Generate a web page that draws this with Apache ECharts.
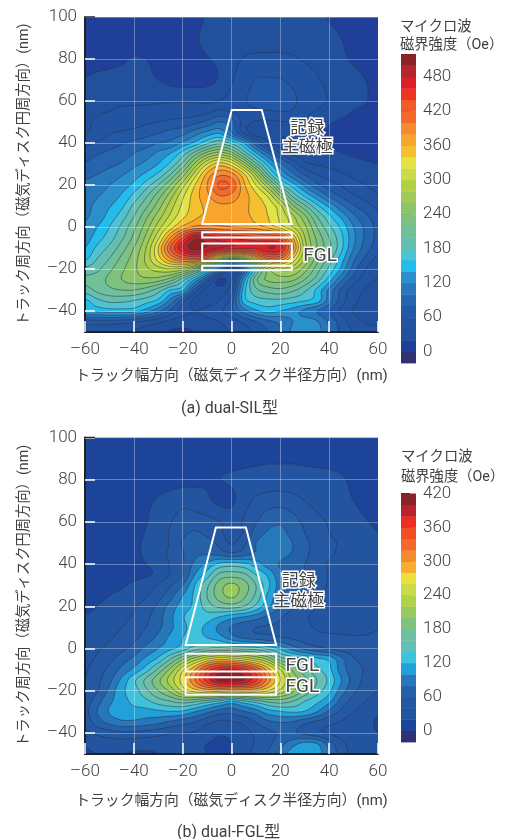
<!DOCTYPE html>
<html><head><meta charset="utf-8">
<style>html,body{margin:0;padding:0;background:#fff}#c{width:507px;height:839px}</style>
<script src="https://cdn.jsdelivr.net/npm/echarts@6/dist/echarts.min.js"></script>
</head><body><div id="c"></div>
<script>
const xNm = [-60,-55,-50,-45,-40,-35,-30,-25,-20,-15,-10,-5,0,5,10,15,20,25,30,35,40,45,50,55,60];
const yNm = [100,90,80,70,60,55,50,45,40,35,30,25,20,15,10,5,0,-5,-10,-15,-20,-25,-30,-35,-40,-45,-50];
const xTicks = [-60,-40,-20,0,20,40,60];
const yTicks = [-40,-20,0,20,40,60,80,100];
const barTicksA = [0,60,120,180,240,300,360,420,480];
const barTicksB = [0,60,120,180,240,300,360,420];

// microwave field (Oe), dual-SIL; one row per yNm, one value per xNm
const fieldA = [
[12,12,12,12,12,12,12,12,12,14,22,26,28,28,28,28,28,28,26,23,19,15,13,12,12],
[12,12,12,12,13,14,14,15,15,18,25,28,30,32,32,33,33,33,32,29,25,20,15,13,12],
[15,16,17,18,21,20,17,15,14,15,19,24,34,41,44,44,44,42,38,33,28,23,18,14,13],
[21,23,24,25,26,24,20,15,12,12,15,22,38,50,61,62,61,56,50,42,35,29,25,20,15],
[30,32,34,35,36,36,37,38,38,38,36,40,47,58,66,70,70,64,52,45,39,32,27,21,15],
[36,38,40,44,45,46,47,48,48,50,54,65,58,55,56,58,60,58,46,38,32,25,19,16,15],
[38,42,48,48,52,56,60,64,68,74,85,100,90,50,38,36,38,40,36,28,22,18,18,18,17],
[40,46,58,62,66,72,78,86,92,110,125,135,100,55,25,22,22,25,25,22,18,16,16,16,17],
[55,62,70,78,85,90,100,105,125,145,175,195,175,140,85,45,25,20,20,20,18,16,15,15,16],
[70,78,85,90,100,110,125,140,170,210,250,270,250,195,145,100,60,35,30,28,24,21,18,17,17],
[82,90,95,102,115,125,140,165,205,265,320,350,330,275,205,150,105,75,45,38,35,30,25,22,20],
[95,100,108,118,130,145,165,200,250,310,365,395,388,345,280,195,140,105,78,60,50,42,35,28,24],
[105,110,120,130,145,170,200,240,290,340,380,425,415,365,320,265,190,150,115,85,70,58,48,40,32],
[110,118,128,142,165,195,230,270,315,350,375,400,395,370,345,315,255,195,155,125,95,75,62,52,42],
[115,125,138,155,185,215,250,290,325,350,365,375,375,365,352,335,305,245,205,165,135,105,82,68,55],
[118,128,148,170,200,235,270,305,335,355,365,370,370,365,355,340,315,285,245,200,165,135,105,85,68],
[122,140,160,185,215,250,290,330,365,385,390,385,380,375,370,355,330,300,265,220,185,155,120,95,75],
[130,150,170,195,225,265,315,380,440,490,480,465,455,450,445,440,430,360,280,235,200,165,125,95,75],
[140,165,185,210,240,280,340,420,480,510,495,480,470,465,465,480,470,390,290,240,205,165,120,90,70],
[155,180,200,225,250,285,330,380,410,420,400,300,260,280,350,400,400,340,280,230,190,150,105,75,55],
[185,195,215,235,255,275,290,300,290,250,190,120,40,100,190,260,290,285,250,210,175,135,90,60,45],
[205,210,225,240,250,255,250,230,190,140,80,15,40,130,215,245,250,245,220,190,150,105,70,50,38],
[190,205,215,220,220,210,190,160,145,75,30,30,50,150,195,210,215,205,185,155,115,75,50,38,30],
[155,175,185,185,180,170,155,115,70,30,30,40,70,150,170,175,175,170,162,150,110,70,45,35,28],
[140,145,150,150,148,130,105,75,50,40,45,55,75,110,135,148,140,130,115,100,80,55,38,28,30],
[70,72,72,70,65,55,45,35,30,30,35,40,50,65,80,95,105,120,128,122,95,70,50,38,35],
[50,48,45,42,38,30,25,18,16,20,28,35,42,52,65,80,100,125,135,130,100,75,58,48,45]
];

// microwave field (Oe), dual-FGL
const fieldB = [
[12,12,12,12,12,12,12,12,12,12,12,12,12,12,12,12,12,12,12,12,12,12,12,12,12],
[13,13,13,13,13,13,13,13,13,14,14,15,15,16,17,18,18,18,17,16,15,14,13,13,13],
[12,12,12,12,12,12,13,14,15,16,18,20,22,25,27,28,28,28,27,26,25,22,17,14,12],
[11,11,12,13,14,17,22,27,32,30,24,15,16,32,44,50,52,47,40,33,28,24,20,15,12],
[12,12,13,14,16,19,28,38,52,50,46,41,32,42,58,72,76,68,55,45,38,32,26,21,17],
[13,13,14,15,16,21,32,42,55,62,55,45,30,42,68,82,85,73,60,48,40,33,28,24,20],
[13,14,15,16,18,22,30,42,62,72,68,55,38,55,80,90,90,80,64,55,45,37,30,26,23],
[14,15,16,16,18,22,32,44,58,75,78,72,62,70,82,88,88,78,65,50,43,36,30,26,23],
[14,15,16,17,18,20,26,42,60,85,105,125,130,125,110,90,78,65,60,50,38,32,28,25,22],
[15,15,16,16,16,18,25,42,60,100,130,165,170,165,140,115,85,68,60,50,38,28,26,24,22],
[15,16,17,18,23,30,42,58,80,120,155,190,205,190,160,125,90,70,58,48,38,26,24,22,20],
[16,17,20,24,30,38,52,72,100,125,160,190,205,185,155,115,85,68,55,45,35,27,24,22,21],
[17,20,25,30,38,48,65,88,110,125,150,165,170,160,135,105,80,62,50,40,33,28,24,22,24],
[21,24,29,35,42,55,72,95,118,130,130,120,108,100,90,75,62,52,43,35,30,28,27,28,30],
[24,28,33,40,48,60,75,95,115,125,115,95,78,68,60,58,58,50,45,38,35,35,34,35,38],
[27,32,38,46,55,70,85,105,120,130,120,110,90,78,72,68,62,58,52,47,45,43,42,42,44],
[30,37,45,55,68,85,100,115,130,150,160,165,160,155,150,135,115,90,75,65,58,52,50,48,48],
[35,43,55,70,85,105,125,160,195,230,260,275,270,260,240,215,170,155,140,125,115,85,62,55,50],
[38,50,65,85,105,130,165,205,255,300,350,380,385,370,340,290,240,195,165,145,125,90,68,58,50],
[40,55,75,105,135,165,195,230,270,320,370,405,410,400,365,310,260,215,185,160,135,100,72,55,48],
[42,58,85,115,130,155,180,205,245,270,285,290,280,285,280,260,235,205,175,150,125,90,65,50,40],
[50,72,95,112,125,135,150,160,170,165,150,135,118,135,150,165,170,160,140,125,105,72,52,40,32],
[55,80,102,110,112,112,115,118,115,100,85,70,68,78,90,110,118,122,118,100,75,55,40,32,22],
[48,70,85,95,95,90,85,75,68,60,45,35,38,45,60,75,80,78,65,55,45,38,30,25,18],
[35,45,52,55,55,52,48,42,40,38,28,22,24,32,45,55,62,62,55,45,38,32,28,24,20],
[22,27,30,32,30,28,26,25,24,24,20,18,20,30,42,55,72,92,105,100,70,45,33,26,22],
[18,20,20,20,18,18,20,22,22,22,20,18,20,32,48,62,88,110,118,112,80,50,35,28,25]
];

// colour of each 20 Oe band, bottom band (-20..0) first
const bandsA = ['#2e3272','#1f3f98','#21509d','#2254a1','#2258a5','#2564ae','#2778bb','#2b8fcb','#22bdec','#4fc3d1','#64bfae','#70c09a','#7cc180','#8cc46b','#a0cb5a','#b2d045','#cbdb47','#e3e342','#f5c02f','#f9a52d','#f58a2e','#f26b2b','#f15a29','#ee3524','#dd2027','#b2262e','#8a2327'];
const bandsB = ['#2e3272','#1c459a','#2354a0','#2458a3','#2561a9','#2678ba','#22a0d9','#3fc3dd','#64bfb5','#6fc0a0','#80c27c','#97ca5f','#aed249','#cbdb47','#eee03a','#f6ad30','#f58a2e','#f4692b','#f04e25','#ee2e24','#b9232e','#8a2327'];

// head outlines in nm: main pole trapezoid and FGL rectangles
const poleA = [[-12,1.4],[0.1,55.7],[12.4,55.7],[24.7,1.4]];
const fglA = [[[-12,-2.5],[24.7,-2.5],[24.7,-5],[-12,-5]],[[-12,-7.8],[24.7,-7.8],[24.7,-16.2],[-12,-16.2]],[[-12,-18.4],[24.7,-18.4],[24.7,-20.6],[-12,-20.6]]];
const poleB = [[-18.8,1.6],[-6.4,57.4],[5.9,57.4],[18.3,1.6]];
const fglB = [[[-18.8,-2.5],[18.3,-2.5],[18.3,-10.9],[-18.8,-10.9]],[[-18.8,-13.6],[18.3,-13.6],[18.3,-21.9],[-18.8,-21.9]]];
const notesA = [['記録',31,47],['主磁極',31,37.6],['FGL',36.3,-13.8]];
const notesB = [['記録',27.5,31.6],['主磁極',27.5,22.2],['FGL',29,-8.3],['FGL',29,-18.5]];

[fieldA,fieldB].forEach((f,n)=>{
  if(f.length!==yNm.length) throw new Error('rows '+n+' '+f.length);
  f.forEach((r,i)=>{ if(r.length!==xNm.length) throw new Error('row '+n+':'+i+' len '+r.length); });
});

const FONT = "Roboto, 'Noto Sans CJK JP', sans-serif";
const TXT = '#404040';
const minus = v => String(v).replace('-', '\u2013');

// display-only refinement of the read values so contour lines come out round
const SUB = 4;
function refine(field){
  const nj=field.length, ni=field[0].length;
  const cr=(a,b,c,d,t)=>0.5*(2*b+(c-a)*t+(2*a-5*b+4*c-d)*t*t+(3*b-a-3*c+d)*t*t*t);
  const g=(j,i)=>field[Math.max(0,Math.min(nj-1,j))][Math.max(0,Math.min(ni-1,i))];
  const X=[],Y=[],V=[];
  for(let i=0;i<ni-1;i++) for(let s=0;s<SUB;s++) X.push(xNm[i]+(xNm[i+1]-xNm[i])*s/SUB);
  X.push(xNm[ni-1]);
  for(let j=0;j<nj-1;j++) for(let s=0;s<SUB;s++) Y.push(yNm[j]+(yNm[j+1]-yNm[j])*s/SUB);
  Y.push(yNm[nj-1]);
  for(let J=0;J<Y.length;J++){
    const j=Math.min(Math.floor(J/SUB),nj-1), tj=J/SUB-j, row=[];
    for(let I=0;I<X.length;I++){
      const i=Math.min(Math.floor(I/SUB),ni-1), ti=I/SUB-i;
      const col=[];
      for(let m=-1;m<3;m++) col.push(cr(g(j+m,i-1),g(j+m,i),g(j+m,i+1),g(j+m,i+2),ti));
      let v=cr(col[0],col[1],col[2],col[3],tj);
      const c=[g(j,i),g(j,i+1),g(j+1,i),g(j+1,i+1)];
      v=Math.max(Math.min.apply(null,c)-10,Math.min(Math.max.apply(null,c)+10,v));
      row.push(v);
    }
    V.push(row);
  }
  return {X,Y,V};
}
function contourItem(field, colors){
  const R=refine(field), X=R.X, Y=R.Y, V=R.V;
  return function(params, api){
    const idx = params.dataIndex;
    const level = (idx-1)*20;
    const P = (x,y)=>{ const c = api.coord([x,y]); return c[0].toFixed(2)+' '+c[1].toFixed(2); };
    let fill = '', line = '';
    if(idx===1) fill = 'M'+P(X[0],Y[0])+'L'+P(X[X.length-1],Y[0])+'L'+P(X[X.length-1],Y[Y.length-1])+'L'+P(X[0],Y[Y.length-1])+'Z';
    else for(let j=0;j<Y.length-1;j++){
      let run=-1;
      const flush=(end)=>{ if(run>=0){ fill+='M'+P(X[run],Y[j])+'L'+P(X[end],Y[j])+'L'+P(X[end],Y[j+1])+'L'+P(X[run],Y[j+1])+'Z'; run=-1; } };
      for(let i=0;i<X.length-1;i++){
        const q=[[X[i],Y[j],V[j][i]],[X[i+1],Y[j],V[j][i+1]],[X[i+1],Y[j+1],V[j+1][i+1]],[X[i],Y[j+1],V[j+1][i]]];
        const cnt=q.filter(p=>p[2]>=level).length;
        if(cnt===4){ if(run<0) run=i; continue; }
        flush(i);
        if(cnt===0) continue;
        const poly=[],cross=[];
        for(let k=0;k<4;k++){
          const a=q[k],b=q[(k+1)%4],ain=a[2]>=level,bin=b[2]>=level;
          if(ain) poly.push([a[0],a[1]]);
          if(ain!==bin){
            const t=(level-a[2])/(b[2]-a[2]);
            const pt=[a[0]+t*(b[0]-a[0]),a[1]+t*(b[1]-a[1])];
            poly.push(pt); cross.push(pt);
          }
        }
        if(poly.length>2) fill+='M'+poly.map(p=>P(p[0],p[1])).join('L')+'Z';
        for(let c=0;c+1<cross.length;c+=2) line+='M'+P(cross[c][0],cross[c][1])+'L'+P(cross[c+1][0],cross[c+1][1]);
      }
      flush(X.length-1);
    }
    const children=[];
    if(fill) children.push({type:'path',silent:true,shape:{pathData:fill},style:{fill:colors[idx],stroke:null}});
    if(line) children.push({type:'path',silent:true,shape:{pathData:line},style:{fill:'none',stroke:'rgba(45,50,70,0.6)',lineWidth:0.9}});
    return {type:'group',children};
  };
}
function headItem(shapes){
  return function(params, api){
    const pts = shapes[params.dataIndex].map(p=>api.coord(p));
    return {type:'polygon',silent:true,shape:{points:pts},style:{fill:'none',stroke:'#fff',lineWidth:2}};
  };
}
function noteItem(notes){
  return function(params, api){
    const n = notes[params.dataIndex], c = api.coord([n[1],n[2]]);
    const size = n[0]==='FGL' ? 19 : 17;
    return {type:'text',silent:true,style:{text:n[0],x:c[0],y:c[1],align:'center',verticalAlign:'middle',font:size+"px "+FONT,fill:'#444',stroke:'#fff',lineWidth:3}};
  };
}
function capItem(params, api){
  const c = api.coord([-60,100]);
  return {type:'line',silent:true,shape:{x1:c[0],y1:c[1],x2:c[0]+10,y2:c[1]},style:{stroke:'#222',lineWidth:1.5}};
}
function bandItem(colors){
  return function(params, api){
    const lo=(params.dataIndex-1)*20;
    const a=api.coord([0,lo+20]), b=api.coord([1,lo]);
    return {type:'rect',silent:true,shape:{x:a[0],y:a[1],width:b[0]-a[0],height:b[1]-a[1]+0.4},style:{fill:colors[params.dataIndex]}};
  };
}
const plotX = (i,gap) => ({gridIndex:i,type:'value',min:-60,max:60,z:5,
  axisLine:{onZero:false,lineStyle:{color:'#222',width:2}},
  axisTick:{show:true,inside:true,length:11,customValues:xTicks,lineStyle:{color:'#fff',width:1.5}},
  axisLabel:{customValues:xTicks,margin:9,fontSize:17,fontWeight:300,fontFamily:FONT,color:TXT,formatter:minus,hideOverlap:false,showMinLabel:true,showMaxLabel:true},
  splitLine:{show:true,lineStyle:{color:'rgba(255,255,255,0.32)',width:1}},
  name:'トラック幅方向（磁気ディスク半径方向）(nm)',nameLocation:'middle',nameGap:gap,
  nameTextStyle:{fontSize:14.8,fontFamily:FONT,color:TXT}});
const plotY = i => ({gridIndex:i,type:'value',min:-50,max:100,z:5,
  axisLine:{show:true,onZero:false,lineStyle:{color:'#222',width:2}},
  axisTick:{show:true,inside:true,length:10,customValues:yTicks,lineStyle:{color:'#fff',width:1.5}},
  axisLabel:{customValues:yTicks,margin:8,fontSize:17,fontWeight:300,fontFamily:FONT,color:TXT,formatter:minus},
  splitLine:{show:true,lineStyle:{color:'rgba(255,255,255,0.32)',width:1}},
  name:'トラック周方向（磁気ディスク円周方向）(nm)',nameLocation:'middle',nameRotate:90,nameGap:53,
  nameTextStyle:{fontSize:14.3,fontFamily:FONT,color:TXT}});
const barX = i => ({gridIndex:i,type:'value',min:0,max:1,show:false});
const barY = (i,max,ticks) => ({gridIndex:i,type:'value',position:'right',min:-20,max,
  axisLine:{show:false},splitLine:{show:false},
  axisTick:{show:true,length:9,customValues:ticks,lineStyle:{color:'#333',width:1}},
  axisLabel:{customValues:ticks,margin:7,fontSize:17,fontWeight:300,fontFamily:FONT,color:TXT}});
const range = n => Array.from({length:n},(_,i)=>[i]);
const custom = (i,name,n,item,clip,z) => ({type:'custom',name,xAxisIndex:i,yAxisIndex:i,data:range(n),renderItem:item,clip,z,silent:true,animation:false});
const text = (s,x,y,size,align) => ({type:'text',left:x,top:y,silent:true,style:{text:s,font:size+'px '+FONT,fill:TXT,textAlign:align||'left'}});

const chart = echarts.init(document.getElementById('c'),null,{renderer:'canvas'});
chart.setOption({
  animation:false,
  backgroundColor:'#fff',
  grid:[
    {left:85,top:17,width:293,height:315},
    {left:85,top:437.5,width:293,height:316.5},
    {left:401,top:54,width:15,height:309},
    {left:401,top:493.5,width:15,height:248.5}
  ],
  xAxis:[plotX(0,37),plotX(1,40),barX(2),barX(3)],
  yAxis:[plotY(0),plotY(1),barY(2,520,barTicksA),barY(3,420,barTicksB)],
  series:[
    custom(0,'dual-SIL',bandsA.length,contourItem(fieldA,bandsA),true,2),
    custom(1,'dual-FGL',bandsB.length,contourItem(fieldB,bandsB),true,2),
    custom(0,'pole-a',1+fglA.length,headItem([poleA].concat(fglA)),true,8),
    custom(1,'pole-b',1+fglB.length,headItem([poleB].concat(fglB)),true,8),
    custom(0,'notes-a',notesA.length,noteItem(notesA),false,9),
    custom(1,'notes-b',notesB.length,noteItem(notesB),false,9),
    custom(0,'cap-a',1,capItem,false,9),
    custom(1,'cap-b',1,capItem,false,9),
    custom(2,'bar-a',bandsA.length,bandItem(bandsA),false,2),
    custom(3,'bar-b',bandsB.length,bandItem(bandsB),false,2)
  ],
  graphic:[
    text('マイクロ波',400,20,14.3),
    text('磁界強度（Oe）',400,38,14.3),
    text('マイクロ波',401,450,14.3),
    text('磁界強度（Oe）',401,470,14.3),
    text('(a) dual-SIL型',181,401,16),
    text('(b) dual-FGL型',177,825,16)
  ]
});
</script></body></html>
